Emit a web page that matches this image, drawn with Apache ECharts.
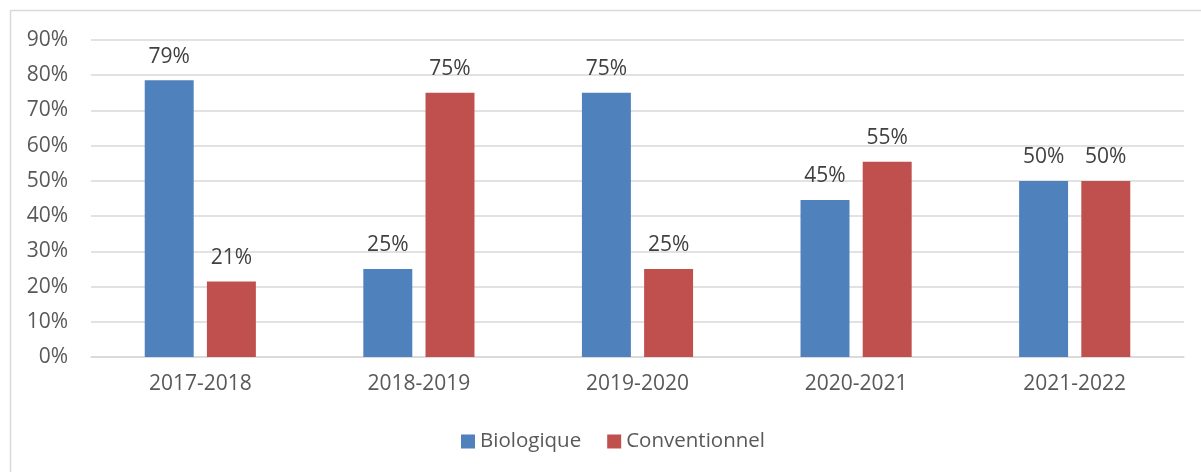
<!DOCTYPE html>
<html>
<head>
<meta charset="utf-8">
<script src="https://cdn.jsdelivr.net/npm/echarts@6/dist/echarts.min.js"></script>
<style>
  html, body { margin: 0; padding: 0; background: #fff; }
  #chart { width: 1201px; height: 472px; }
</style>
</head>
<body>
<div id="chart"></div>
<script>
  // saisons et parts (en %)
  var seasons = ['2017-2018', '2018-2019', '2019-2020', '2020-2021', '2021-2022'];
  var bio = [78.6, 25, 75, 44.6, 50];
  var conv = [21.4, 75, 25, 55.4, 50];

  var font = '"Open Sans", sans-serif';
  var chart = echarts.init(document.getElementById('chart'));

  function labelStyle() {
    return {
      show: true,
      position: 'top',
      distance: 13,
      color: '#404040',
      fontSize: 21,
      fontFamily: font,
      formatter: function (p) { return Math.round(p.value) + '%'; }
    };
  }

  chart.setOption({
    animation: false,
    graphic: [{
      type: 'rect',
      shape: { x: 10.5, y: 10.5, width: 1200, height: 470 },
      style: { fill: 'none', stroke: '#d9d9d9', lineWidth: 1.5 }
    }],
    grid: { left: 91, right: 17, top: 40, bottom: 115 },
    legend: {
      data: ['Biologique', 'Conventionnel'],
      top: 431,
      left: 461,
      padding: 0,
      itemWidth: 14,
      itemHeight: 14,
      itemGap: 26,
      icon: 'rect',
      textStyle: { color: '#595959', fontSize: 20.5, fontFamily: font }
    },
    xAxis: {
      type: 'category',
      data: seasons,
      axisLine: { lineStyle: { color: '#d9d9d9', width: 1.5 } },
      axisTick: { show: false },
      axisLabel: { color: '#595959', fontSize: 21, fontFamily: font, margin: 17 }
    },
    yAxis: {
      type: 'value',
      min: 0,
      max: 90,
      interval: 10,
      axisLine: { show: false },
      axisTick: { show: false },
      splitLine: { lineStyle: { color: '#d9d9d9', width: 1.5 } },
      axisLabel: { color: '#595959', fontSize: 21, fontFamily: font, margin: 23, formatter: '{value}%' }
    },
    series: [{
      name: 'Biologique',
      type: 'bar',
      data: bio,
      barWidth: '22.4%',
      barGap: '27%',
      itemStyle: { color: '#4F81BD' },
      label: labelStyle()
    }, {
      name: 'Conventionnel',
      type: 'bar',
      data: conv,
      barWidth: '22.4%',
      itemStyle: { color: '#C0504D' },
      label: labelStyle()
    }]
  });
</script>
</body>
</html>
